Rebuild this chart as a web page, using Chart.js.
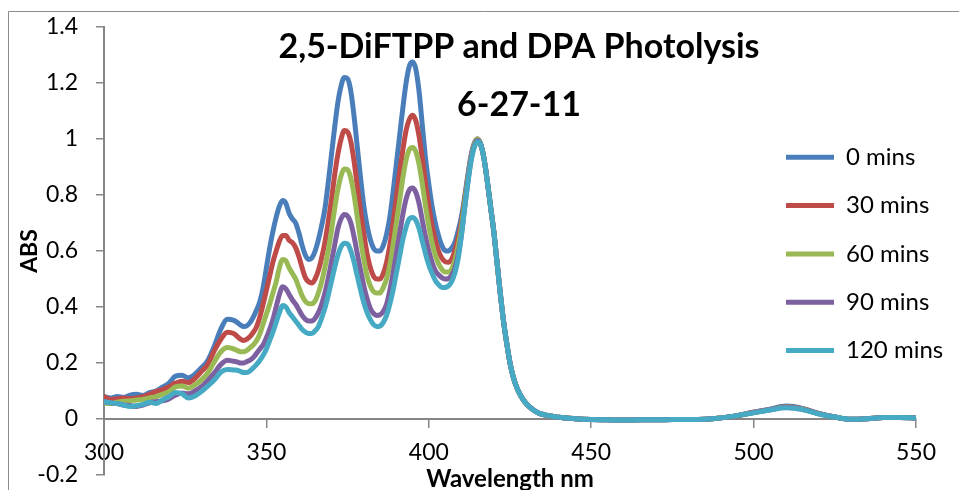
<!DOCTYPE html>
<html>
<head>
<meta charset="utf-8">
<script src="https://cdn.jsdelivr.net/npm/chart.js@4.4.1/dist/chart.umd.min.js"></script>
<style>
  html, body { margin: 0; padding: 0; background: #ffffff; }
  #wrap { width: 959px; height: 490px; position: relative; overflow: hidden; }
</style>
</head>
<body>
<div id="wrap"><canvas id="c" width="959" height="490"></canvas></div>
<script>
// ---------------- data ----------------
const titleLines = ['2,5-DiFTPP and DPA Photolysis', '6-27-11'];
const xTitle = 'Wavelength nm';
const yTitle = 'ABS';
const seriesLabels = ['0 mins', '30 mins', '60 mins', '90 mins', '120 mins'];

const wavelengths = [
  300,302,304,306,308,310,312,314,316,318,320,322,324,326,328,330,332,334,336,338,
  340,341,342,343,344,345,346,347,348,349,350,351,352,353,354,355,356,357,358,359,
  360,361,362,363,364,365,366,367,368,369,370,371,372,373,374,375,376,377,378,379,
  380,381,382,383,384,385,386,387,388,389,390,391,392,393,394,395,396,397,398,399,
  400,401,402,403,404,405,406,407,408,409,410,411,412,413,414,415,416,417,418,419,
  420,421,422,423,424,425,426,427,428,429,430,431,432,
  434,436,438,440,445,450,455,460,465,470,475,480,485,490,495,500,505,510,515,520,525,530,535,540,545,550
];

const abs0 = [
  0.080,0.075,0.080,0.077,0.085,0.088,0.084,0.094,0.100,0.114,0.128,0.153,0.156,0.147,0.160,0.183,0.210,0.262,0.322,0.356,
  0.352,0.345,0.336,0.330,0.333,0.345,0.365,0.390,0.420,0.470,0.540,0.610,0.670,0.720,0.760,0.780,0.770,0.735,0.715,0.700,
  0.665,0.620,0.585,0.570,0.575,0.600,0.640,0.690,0.750,0.840,0.940,1.040,1.130,1.190,1.220,1.215,1.170,1.080,0.970,0.860,
  0.760,0.690,0.640,0.610,0.600,0.600,0.620,0.660,0.720,0.810,0.910,1.010,1.110,1.200,1.260,1.275,1.250,1.170,1.050,0.930,
  0.840,0.760,0.700,0.655,0.620,0.602,0.600,0.610,0.630,0.670,0.720,0.790,0.870,0.940,0.985,1.000,0.980,0.930,0.850,0.760,
  0.670,0.560,0.450,0.350,0.270,0.200,0.150,0.115,0.090,0.070,0.055,0.043,0.034,
  0.020,0.014,0.010,0.006,0.001,-0.002,-0.003,-0.004,-0.003,-0.003,-0.002,-0.002,-0.001,0.004,0.012,0.024,0.035,0.046,0.038,0.020,0.007,-0.001,0.001,0.005,0.005,0.004
];

const abs30 = [
  0.080,0.070,0.072,0.075,0.073,0.075,0.080,0.088,0.098,0.105,0.115,0.128,0.135,0.130,0.145,0.170,0.195,0.245,0.285,0.310,
  0.305,0.295,0.285,0.280,0.285,0.295,0.310,0.330,0.365,0.410,0.460,0.510,0.560,0.600,0.635,0.655,0.655,0.638,0.630,0.612,
  0.580,0.540,0.505,0.490,0.486,0.500,0.530,0.575,0.630,0.700,0.780,0.870,0.945,1.000,1.030,1.025,0.990,0.920,0.830,0.740,
  0.660,0.590,0.540,0.510,0.500,0.500,0.520,0.560,0.620,0.700,0.790,0.880,0.960,1.030,1.070,1.085,1.065,1.010,0.930,0.840,
  0.760,0.690,0.640,0.600,0.575,0.562,0.560,0.570,0.600,0.645,0.700,0.780,0.860,0.935,0.980,1.000,0.980,0.930,0.850,0.760,
  0.670,0.560,0.450,0.350,0.270,0.200,0.150,0.115,0.090,0.070,0.055,0.043,0.034,
  0.020,0.014,0.010,0.006,0.001,-0.002,-0.003,-0.004,-0.003,-0.003,-0.002,-0.002,-0.001,0.004,0.012,0.024,0.034,0.044,0.037,0.020,0.007,-0.001,0.001,0.005,0.005,0.004
];

const abs60 = [
  0.057,0.055,0.060,0.063,0.065,0.068,0.070,0.075,0.080,0.088,0.098,0.115,0.118,0.110,0.122,0.140,0.165,0.205,0.240,0.255,
  0.250,0.245,0.240,0.240,0.245,0.255,0.265,0.280,0.305,0.340,0.375,0.410,0.450,0.490,0.540,0.570,0.565,0.540,0.520,0.500,
  0.470,0.440,0.420,0.412,0.412,0.422,0.450,0.490,0.540,0.600,0.670,0.750,0.820,0.870,0.893,0.890,0.860,0.800,0.720,0.640,
  0.570,0.510,0.475,0.455,0.450,0.450,0.470,0.500,0.550,0.620,0.700,0.780,0.860,0.925,0.962,0.970,0.955,0.910,0.840,0.760,
  0.690,0.630,0.585,0.555,0.535,0.525,0.525,0.535,0.565,0.615,0.680,0.770,0.855,0.930,0.980,1.000,0.980,0.930,0.850,0.760,
  0.670,0.560,0.450,0.350,0.270,0.200,0.150,0.115,0.090,0.070,0.055,0.043,0.034,
  0.020,0.014,0.010,0.006,0.001,-0.002,-0.003,-0.004,-0.003,-0.003,-0.002,-0.002,-0.001,0.004,0.012,0.023,0.033,0.043,0.036,0.019,0.007,-0.001,0.001,0.005,0.005,0.004
];

const abs90 = [
  0.062,0.058,0.055,0.050,0.048,0.045,0.050,0.058,0.062,0.065,0.072,0.085,0.093,0.090,0.100,0.115,0.138,0.165,0.195,0.210,
  0.206,0.204,0.200,0.200,0.205,0.210,0.220,0.235,0.250,0.265,0.290,0.320,0.355,0.400,0.445,0.472,0.465,0.445,0.425,0.410,
  0.390,0.370,0.356,0.350,0.350,0.360,0.380,0.410,0.450,0.500,0.560,0.620,0.680,0.715,0.730,0.725,0.700,0.650,0.590,0.530,
  0.475,0.430,0.395,0.377,0.370,0.372,0.385,0.410,0.460,0.520,0.590,0.660,0.730,0.785,0.818,0.825,0.810,0.770,0.710,0.650,
  0.600,0.560,0.530,0.515,0.505,0.500,0.502,0.512,0.537,0.585,0.655,0.750,0.845,0.925,0.975,0.995,0.980,0.930,0.850,0.760,
  0.670,0.560,0.450,0.350,0.270,0.200,0.150,0.115,0.090,0.070,0.055,0.043,0.034,
  0.020,0.014,0.010,0.006,0.001,-0.002,-0.003,-0.004,-0.003,-0.003,-0.002,-0.002,-0.001,0.004,0.012,0.023,0.033,0.042,0.035,0.019,0.007,-0.001,0.001,0.005,0.005,0.004
];

const abs120 = [
  0.062,0.058,0.055,0.050,0.045,0.047,0.052,0.060,0.055,0.068,0.080,0.095,0.090,0.075,0.082,0.098,0.118,0.140,0.168,0.177,
  0.175,0.174,0.170,0.166,0.166,0.172,0.183,0.195,0.210,0.228,0.250,0.280,0.310,0.345,0.380,0.405,0.400,0.380,0.365,0.350,
  0.335,0.320,0.310,0.305,0.305,0.315,0.330,0.360,0.395,0.440,0.490,0.540,0.585,0.615,0.628,0.625,0.600,0.560,0.510,0.460,
  0.415,0.380,0.355,0.337,0.330,0.332,0.345,0.370,0.410,0.460,0.520,0.580,0.640,0.685,0.715,0.720,0.710,0.680,0.635,0.590,
  0.550,0.520,0.495,0.480,0.470,0.470,0.475,0.490,0.520,0.570,0.650,0.750,0.840,0.920,0.970,0.990,0.980,0.930,0.850,0.760,
  0.670,0.560,0.450,0.350,0.270,0.200,0.150,0.115,0.090,0.070,0.055,0.043,0.034,
  0.020,0.014,0.010,0.006,0.001,-0.002,-0.003,-0.004,-0.003,-0.003,-0.002,-0.002,-0.001,0.004,0.012,0.022,0.032,0.040,0.034,0.018,0.007,-0.001,0.001,0.005,0.005,0.004
];

const seriesValues = [abs0, abs30, abs60, abs90, abs120];

// ---------------- styles & layout ----------------
const seriesColors = ['#4A7EBB', '#BE4B48', '#98B954', '#7D60A0', '#46AAC5'];
const axisGray = '#868686';
const FONT = 'Lato, "Open Sans", "Liberation Sans", sans-serif';
const placement = { titleCenterX: 519, legendX: 786, legendY: 145.3, yAxisWidth: 104, yLabelPad: 14 };

Chart.defaults.font.family = FONT;
Chart.defaults.color = '#000000';

const frame = {
  id: 'frame',
  beforeDraw(chart) {
    const ctx = chart.ctx;
    ctx.save();
    ctx.fillStyle = '#ffffff';
    ctx.fillRect(0, 0, chart.width, chart.height);
    ctx.strokeStyle = '#8c8c8c';
    ctx.lineWidth = 1;
    ctx.beginPath();
    ctx.moveTo(8.5, chart.height + 5);
    ctx.lineTo(8.5, 11.5);
    ctx.lineTo(chart.width + 5, 11.5);
    ctx.stroke();
    ctx.restore();
  }
};

const place = {
  id: 'place',
  afterLayout(chart) {
    const tb = chart.titleBlock;
    if (tb) {
      const dx = placement.titleCenterX - (tb.left + tb.right) / 2;
      tb.left += dx; tb.right += dx;
    }
    const lg = chart.legend;
    if (lg) {
      const pad = lg.options.labels.padding;
      const w = lg.width, h = lg.height;
      lg.left = placement.legendX - pad; lg.right = lg.left + w;
      lg.top = placement.legendY - pad; lg.bottom = lg.top + h;
    }
  }
};

const datasets = seriesLabels.map((label, s) => ({
  label: label,
  data: wavelengths.map((w, i) => ({ x: w, y: seriesValues[s][i] })),
  borderColor: seriesColors[s],
  backgroundColor: seriesColors[s],
  borderWidth: 5,
  borderCapStyle: 'round',
  borderJoinStyle: 'round',
  pointRadius: 0,
  pointHoverRadius: 0,
  fill: false,
  cubicInterpolationMode: 'monotone',
  order: seriesLabels.length - 1 - s
}));

new Chart(document.getElementById('c'), {
  type: 'line',
  data: { datasets: datasets },
  plugins: [frame, place],
  options: {
    responsive: false,
    devicePixelRatio: 1,
    animation: false,
    events: [],
    layout: { padding: { left: 0, right: 43, top: 0, bottom: 15 } },
    plugins: {
      tooltip: { enabled: false },
      title: {
        display: true,
        text: titleLines,
        color: '#000000',
        font: { family: FONT, size: 34, weight: 'bold', lineHeight: 58 / 34 },
        padding: { top: 17.8, bottom: -106.8 }
      },
      legend: {
        display: true,
        position: 'chartArea',
        align: 'start',
        labels: {
          usePointStyle: true,
          pointStyle: 'line',
          pointStyleWidth: 48,
          padding: 24.3,
          color: '#000000',
          font: { family: FONT, size: 24 },
          sort: (a, b) => a.datasetIndex - b.datasetIndex
        }
      }
    },
    scales: {
      x: {
        type: 'linear',
        position: { y: 0 },
        min: 300,
        max: 550,
        ticks: { stepSize: 50, padding: 12, color: '#000000', font: { family: FONT, size: 23 } },
        grid: { drawOnChartArea: false, drawTicks: true, tickLength: 8, color: axisGray, lineWidth: 1.5 },
        border: { color: axisGray, width: 2 },
        title: { display: true, text: xTitle, color: '#000000', font: { family: FONT, size: 24, weight: 'bold' }, padding: { top: -14, bottom: 0 } }
      },
      y: {
        type: 'linear',
        position: 'left',
        min: -0.2,
        max: 1.4,
        afterFit: (scale) => {
          scale.width = placement.yAxisWidth;
          scale.paddingTop = placement.yLabelPad;
          scale.paddingBottom = placement.yLabelPad;
        },
        ticks: {
          stepSize: 0.2,
          padding: 18,
          color: '#000000',
          font: { family: FONT, size: 23 },
          callback: (v) => String(Math.round(v * 10) / 10)
        },
        grid: { drawOnChartArea: false, drawTicks: true, tickLength: 8, color: axisGray, lineWidth: 1.5 },
        border: { color: axisGray, width: 2 },
        title: { display: true, text: yTitle, color: '#000000', font: { family: FONT, size: 23, weight: 'bold' }, padding: { top: 16, bottom: 0 } }
      }
    }
  }
});
</script>
</body>
</html>
